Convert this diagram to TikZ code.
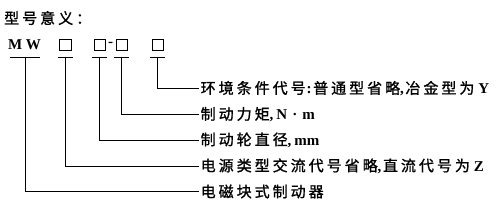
\documentclass[tikz,border=0pt]{standalone}
\usepackage{fontspec}
\setmainfont{Liberation Serif}
\newfontfamily\cjk[LetterSpace=20,FakeBold=1.2]{Noto Sans CJK SC}
\newcommand\zh[1]{{\mdseries\cjk #1}}
\begin{document}
\begin{tikzpicture}[x=1pt,y=-1pt,
  codebox/.style={draw,minimum size=11.5pt,inner sep=0pt},
  meaning/.style={anchor=west,inner sep=1.5pt,font=\bfseries\fontsize{15}{16}\selectfont}]
\useasboundingbox (0,0) rectangle (503,205);
% title
\node[anchor=west,inner sep=0pt,font=\fontsize{15}{16}\selectfont] (title) at (4,18) {\zh{型号意义：}};
% code
\node[font=\bfseries\fontsize{15}{16}\selectfont] (mw) at (24.5,44.5) {M\kern3.5ptW};
\node[codebox] (b1) at (65,44.5) {};
\node[codebox] (b2) at (99.5,44.5) {};
\node[inner sep=0pt,font=\bfseries\fontsize{15}{16}\selectfont] (dash) at (110.5,44.5) {-};
\node[codebox] (b3) at (121.5,44.5) {};
\node[codebox] (b4) at (157.5,44.5) {};
% underlines
\coordinate (u0) at (25,57);
\coordinate (u1) at (65,57);
\coordinate (u2) at (99.5,57);
\coordinate (u3) at (121.5,57);
\coordinate (u4) at (157.5,57);
\draw ([xshift=-15]u0) -- ([xshift=15]u0);
\foreach \u in {u1,u2,u3,u4}
  \draw ([xshift=-7.5]\u) -- ([xshift=7.5]\u);
% meanings
\node[meaning] (l1) at (199,88.5) {\zh{环境条件代号}\kern1pt:\kern1.5pt\zh{普通型省略},\kern1.5pt\zh{冶金型为}\hspace{4pt}Y};
\node[meaning] (l2) at (199,114.5) {\zh{制动力矩},\hspace{3pt}N\hspace{5pt}·\hspace{5pt}m};
\node[meaning] (l3) at (199,140) {\zh{制动轮直径},\hspace{3pt}mm};
\node[meaning] (l4) at (199,166) {\zh{电源类型交流代号省略},\kern1.5pt\zh{直流代号为}\hspace{4pt}Z};
\node[meaning] (l5) at (199,191.5) {\zh{电磁块式制动器}};
% connectors
\draw (u4) |- (l1.west);
\draw (u3) |- (l2.west);
\draw (u2) |- (l3.west);
\draw (u1) |- (l4.west);
\draw (u0) |- (l5.west);
\end{tikzpicture}
\end{document}
